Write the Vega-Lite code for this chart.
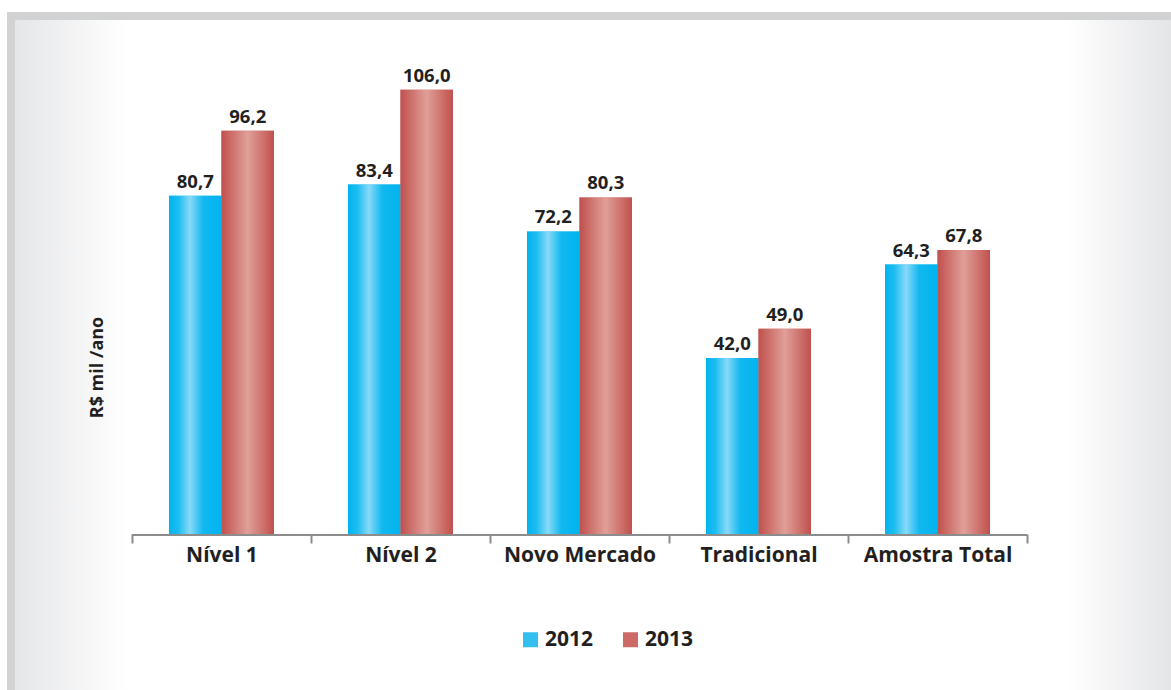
{
  "$schema": "https://vega.github.io/schema/vega-lite/v6.json",
  "autosize": {"type": "none"},
  "padding": {"left": 11, "top": 16, "right": 0, "bottom": 0},
  "width": 1160,
  "height": 674,
  "background": "#ffffff",
  "config": {
    "locale": {"number": {"decimal": ",", "thousands": ".", "grouping": [3], "currency": ["R$", ""]}},
    "view": {
      "fill": {"gradient": "linear", "x1": 0, "y1": 0, "x2": 1, "y2": 0,
        "stops": [
          {"offset": 0, "color": "#e4e5e7"},
          {"offset": 0.1, "color": "#ffffff"},
          {"offset": 0.91, "color": "#ffffff"},
          {"offset": 1, "color": "#e4e5e7"}
        ]},
      "stroke": "#d1d2d4",
      "strokeWidth": 8,
      "strokeDash": [1160, 1834, 674],
      "strokeCap": "square"
    },
    "font": "Open Sans",
    "text": {"color": "#231f20"}
  },
  "data": {
    "values": [
      {"categoria": "Nível 1", "ano": "2012", "valor": 80.7},
      {"categoria": "Nível 1", "ano": "2013", "valor": 96.2},
      {"categoria": "Nível 2", "ano": "2012", "valor": 83.4},
      {"categoria": "Nível 2", "ano": "2013", "valor": 106.0},
      {"categoria": "Novo Mercado", "ano": "2012", "valor": 72.2},
      {"categoria": "Novo Mercado", "ano": "2013", "valor": 80.3},
      {"categoria": "Tradicional", "ano": "2012", "valor": 42.0},
      {"categoria": "Tradicional", "ano": "2013", "valor": 49.0},
      {"categoria": "Amostra Total", "ano": "2012", "valor": 64.3},
      {"categoria": "Amostra Total", "ano": "2013", "valor": 67.8}
    ]
  },
  "encoding": {
    "x": {
      "field": "categoria", "type": "nominal", "sort": null,
      "scale": {"paddingInner": 0, "paddingOuter": 0.740, "align": 0.4566},
      "axis": {
        "title": null, "orient": "bottom", "offset": -156,
        "domain": false, "grid": false,
        "ticks": true, "tickBand": "extent", "tickSize": 9, "tickWidth": 2, "tickColor": "#8c8c8c",
        "labelAngle": 0, "labelFont": "Open Sans", "labelFontWeight": "bold", "labelFontSize": 21,
        "labelColor": "#231f20", "labelPadding": 1, "labelBaseline": "top"
      }
    }
  },
  "layer": [
    {
      "mark": {"type": "bar", "color": "#8c8c8c"},
      "encoding": {
        "y": {"datum": 0, "type": "quantitative", "scale": {"domain": [-37.2, 123.6], "nice": false, "zero": false}},
        "y2": {"datum": -0.48}
      }
    },
    {
      "mark": {"type": "bar"},
      "encoding": {
        "xOffset": {"field": "ano", "type": "nominal", "scale": {"domain": ["2012", "2013"], "paddingInner": 0, "paddingOuter": 0.705}},
        "y": {
          "field": "valor", "type": "quantitative",
          "scale": {"domain": [-37.2, 123.6], "nice": false, "zero": false},
          "axis": {
            "title": "R$ mil /ano", "domain": false, "ticks": false, "labels": false, "grid": false,
            "titleFont": "Open Sans", "titleFontWeight": "bold", "titleFontSize": 18, "titleColor": "#231f20",
            "titleAngle": -90, "titleX": 91, "titleY": 351, "titleAlign": "center", "titleBaseline": "alphabetic"
          }
        },
        "y2": {"datum": 0},
        "color": {
          "field": "ano", "type": "nominal",
          "scale": {"domain": ["2012", "2013"], "range": ["#33c0f0", "#cc6a65"]},
          "legend": {
            "title": null, "orient": "none", "legendX": 509, "legendY": 613, "direction": "horizontal",
            "symbolType": "square", "symbolSize": 225, "symbolStrokeWidth": 0, "symbolOpacity": 1,
            "labelFont": "Open Sans", "labelFontWeight": "bold", "labelFontSize": 21, "labelColor": "#231f20",
            "labelOffset": 4, "columnPadding": 26
          }
        }
      }
    },
    {
      "transform": [{"filter": "datum.ano === '2012'"}],
      "mark": {"type": "bar", "color": {"gradient": "linear", "x1": 0, "y1": 0, "x2": 1, "y2": 0,
        "stops": [
          {"offset": 0, "color": "#00b4ee"},
          {"offset": 0.18, "color": "#1dbdf1"},
          {"offset": 0.4, "color": "#88d9f8"},
          {"offset": 0.65, "color": "#12b8f0"},
          {"offset": 1, "color": "#00b4ee"}
        ]}},
      "encoding": {
        "xOffset": {"field": "ano", "type": "nominal"},
        "y": {"field": "valor", "type": "quantitative"},
        "y2": {"datum": 0}
      }
    },
    {
      "transform": [{"filter": "datum.ano === '2013'"}],
      "mark": {"type": "bar", "color": {"gradient": "linear", "x1": 0, "y1": 0, "x2": 1, "y2": 0,
        "stops": [
          {"offset": 0, "color": "#c0504d"},
          {"offset": 0.5, "color": "#e09f98"},
          {"offset": 1, "color": "#c0504d"}
        ]}},
      "encoding": {
        "xOffset": {"field": "ano", "type": "nominal"},
        "y": {"field": "valor", "type": "quantitative"},
        "y2": {"datum": 0}
      }
    },
    {
      "mark": {"type": "text", "fontWeight": "bold", "fontSize": 18.5, "baseline": "alphabetic", "dy": -8, "color": "#231f20", "font": "Open Sans"},
      "encoding": {
        "xOffset": {"field": "ano", "type": "nominal"},
        "y": {"field": "valor", "type": "quantitative"},
        "text": {"field": "valor", "type": "quantitative", "format": ".1f"}
      }
    }
  ]
}
